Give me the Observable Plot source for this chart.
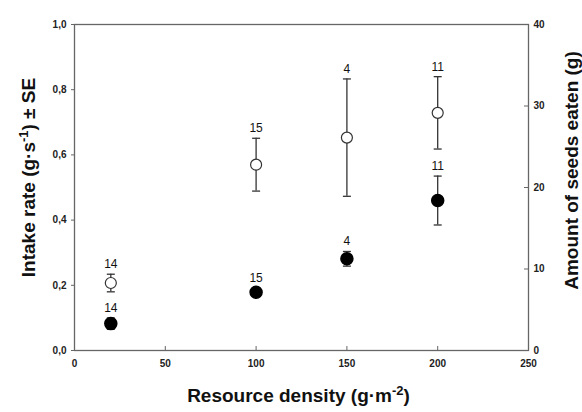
<!DOCTYPE html>
<html>
<head>
<meta charset="utf-8">
<script src="https://cdn.jsdelivr.net/npm/d3@7"></script>
<script src="https://cdn.jsdelivr.net/npm/@observablehq/plot@0.6"></script>
<style>
  html, body { margin: 0; padding: 0; background: #fff; }
  svg { font-family: "Liberation Sans", Arial, sans-serif; }
</style>
</head>
<body>
<div id="chart"></div>
<script>
// Resource density (g·m-2)
const density = [20, 100, 150, 200];
// Intake rate (g·s-1), open circles, left axis
const intake = [0.207, 0.570, 0.653, 0.729];
const intakeSE = [0.027, 0.081, 0.180, 0.111];
const intakeN = [14, 15, 4, 11];
// Amount of seeds eaten (g), filled circles, right axis
const seeds = [3.3, 7.15, 11.25, 18.4];
const seedsSE = [0.7, 0.45, 0.9, 3.0];
const seedsN = [14, 15, 4, 11];

const xTicks = [0, 50, 100, 150, 200, 250];
const yLeftTicks = [0, 0.2, 0.4, 0.6, 0.8, 1.0];
const yRightTicks = [0, 10, 20, 30, 40];
const rightMax = 40;

const intakeRows = density.map((d, i) => ({x: d, y: intake[i], lo: intake[i] - intakeSE[i], hi: intake[i] + intakeSE[i], n: intakeN[i]}));
const seedRows = density.map((d, i) => ({x: d, y: seeds[i] / rightMax, lo: (seeds[i] - seedsSE[i]) / rightMax, hi: (seeds[i] + seedsSE[i]) / rightMax, n: seedsN[i]}));

const capSymbol = {draw(ctx) { ctx.moveTo(-4, 0); ctx.lineTo(4, 0); }};
const ink = "#333";

const plot = Plot.plot({
  width: 582,
  height: 412,
  marginLeft: 74,
  marginRight: 54,
  marginTop: 24,
  marginBottom: 62,
  x: {domain: [0, 250]},
  y: {domain: [0, 1]},
  style: {fontFamily: "'Liberation Sans', Arial, sans-serif", background: "#fff"},
  marks: [
    Plot.frame({stroke: "#666", strokeWidth: 1.3}),
    Plot.axisX({ticks: xTicks, tickSize: -4, tickPadding: 13, tickFormat: d => d, fontSize: 10, fontWeight: "bold", fill: "#222", stroke: "#666", label: null}),
    Plot.axisY({anchor: "left", ticks: yLeftTicks, tickSize: 3, tickPadding: 5, tickFormat: d => d.toFixed(1).replace(".", ","), fontSize: 10, fontWeight: "bold", fill: "#222", stroke: "#666", label: null}),
    Plot.axisY({anchor: "right", ticks: yRightTicks.map(v => v / rightMax), tickSize: -5, tickPadding: 10, tickFormat: d => Math.round(d * rightMax), fontSize: 10, fontWeight: "bold", fill: "#222", stroke: "#666", label: null}),
    // error bars
    Plot.ruleX(intakeRows, {x: "x", y1: "lo", y2: "hi", stroke: ink, strokeWidth: 1.3}),
    Plot.ruleX(seedRows, {x: "x", y1: "lo", y2: "hi", stroke: ink, strokeWidth: 1.3}),
    Plot.dot(intakeRows, {x: "x", y: "lo", symbol: capSymbol, stroke: ink, strokeWidth: 1.3}),
    Plot.dot(intakeRows, {x: "x", y: "hi", symbol: capSymbol, stroke: ink, strokeWidth: 1.3}),
    Plot.dot(seedRows, {x: "x", y: "lo", symbol: capSymbol, stroke: ink, strokeWidth: 1.3}),
    Plot.dot(seedRows, {x: "x", y: "hi", symbol: capSymbol, stroke: ink, strokeWidth: 1.3}),
    // points
    Plot.dot(intakeRows, {x: "x", y: "y", r: 5.5, fill: "#fff", stroke: ink, strokeWidth: 1.2}),
    Plot.dot(seedRows, {x: "x", y: "y", r: 6, fill: "#000", stroke: "#000"}),
    // sample sizes
    Plot.text(intakeRows, {x: "x", y: "hi", text: d => String(d.n), dy: -10, fontSize: 12, fill: "#111"}),
    Plot.text(seedRows, {x: "x", y: "hi", text: d => String(d.n), dy: -10, fontSize: 12, fill: "#111"}),
    // axis titles
    Plot.text(["Resource density (g·m-2)"], {frameAnchor: "bottom", textAnchor: "middle", dx: -3, dy: 51, fontSize: 19, fontWeight: "bold", fill: "#111", className: "xtitle"}),
    Plot.text(["Intake rate (g·s-1) ± SE"], {frameAnchor: "left", textAnchor: "middle", dx: -46, dy: -10, rotate: -90, fontSize: 19, fontWeight: "bold", fill: "#111", className: "ytitle"}),
    Plot.text(["Amount of seeds eaten (g)"], {frameAnchor: "right", textAnchor: "middle", dx: 43, dy: -17, rotate: -90, fontSize: 19, fontWeight: "bold", fill: "#111", className: "y2title"})
  ]
});

// superscripts in axis titles
function superscript(cls, base, sup, tail) {
  const t = d3.select(plot).select("." + cls + " text");
  t.text(null);
  t.append("tspan").text(base);
  t.append("tspan").attr("baseline-shift", "super").attr("font-size", "13").text(sup);
  if (tail) t.append("tspan").text(tail);
}
superscript("xtitle", "Resource density (g·m", "-2", ")");
superscript("ytitle", "Intake rate (g·s", "-1", ") ± SE");

document.getElementById("chart").appendChild(plot);
</script>
</body>
</html>
